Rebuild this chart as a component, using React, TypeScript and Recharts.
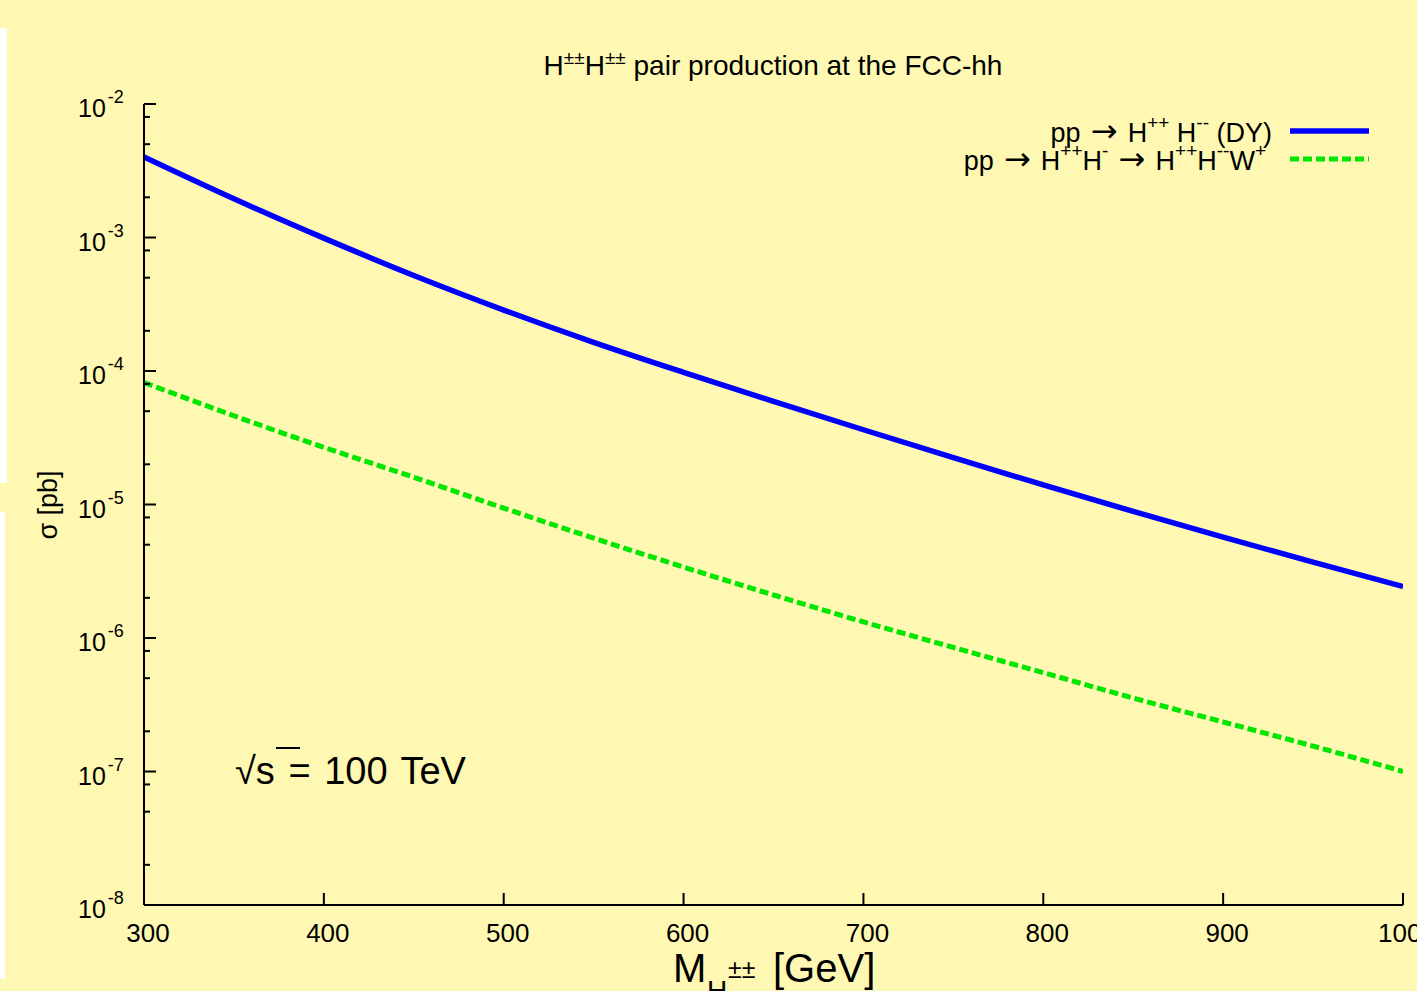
import React from 'react';
import { LineChart, Line, XAxis, YAxis } from 'recharts';

const BG = '#fef8b3';
const FONT = '"Liberation Sans", Arial, Helvetica, sans-serif';
const ARROW_FONT = '"DejaVu Sans", sans-serif';

// data
const masses = [300, 350, 400, 450, 500, 550, 600, 650, 700, 750, 800, 850, 900, 950, 1000];
const dySigma = [4.01e-3, 1.95e-3, 9.89e-4, 5.19e-4, 2.86e-4, 1.64e-4, 9.77e-5, 5.92e-5, 3.63e-5, 2.24e-5, 1.4e-5, 8.87e-6, 5.69e-6, 3.7e-6, 2.43e-6];
const wSigma = [8.2e-5, 4.62e-5, 2.68e-5, 1.6e-5, 9.4e-6, 5.6e-6, 3.4e-6, 2.1e-6, 1.32e-6, 8.5e-7, 5.5e-7, 3.55e-7, 2.35e-7, 1.55e-7, 1.0e-7];

const xTicks = [300, 400, 500, 600, 700, 800, 900, 1000];
const yDecades = [-8, -7, -6, -5, -4, -3, -2];
const yMinorMantissas = [2, 5, 8];

const data = masses.map((m, i) => ({ m, dy: dySigma[i], w: wSigma[i] }));

const yTicks: number[] = [];
yDecades.forEach((d, i) => {
  yTicks.push(Math.pow(10, d));
  if (i < yDecades.length - 1) yMinorMantissas.forEach((k) => yTicks.push(k * Math.pow(10, d)));
});

const isMajor = (v: number) => {
  const lg = Math.log10(v);
  return Math.abs(lg - Math.round(lg)) < 1e-6;
};

const LeftTick = (props: any) => {
  const { x, y, payload } = props;
  const v = payload.value;
  const major = isMajor(v);
  return (
    <g>
      <line x1={x} x2={x + (major ? 12 : 6)} y1={y} y2={y} stroke="#000" strokeWidth={2} />
      {major && (
        <text x={x - 66} y={y + 13} fontFamily={FONT} fontSize={25} fill="#000" textAnchor="start">
          10
          <tspan dx={2} dy={-14} fontSize={18}>{String(Math.round(Math.log10(v)))}</tspan>
        </text>
      )}
    </g>
  );
};

const RightTick = (props: any) => {
  const { x, y, payload } = props;
  const major = isMajor(payload.value);
  return <line x1={x - (major ? 12 : 6)} x2={x} y1={y} y2={y} stroke="#000" strokeWidth={2} />;
};

const BottomTick = (props: any) => {
  const { x, y, payload } = props;
  return (
    <g>
      <line x1={x} x2={x} y1={y - 12} y2={y} stroke="#000" strokeWidth={2} />
      <text x={x + 4} y={y + 37} fontFamily={FONT} fontSize={26} fill="#000" textAnchor="middle">
        {payload.value}
      </text>
    </g>
  );
};

const TopTick = (props: any) => {
  const { x, y } = props;
  return <line x1={x} x2={x} y1={y} y2={y + 12} stroke="#000" strokeWidth={2} />;
};

const series = [
  { key: 'dy', color: '#0000ff', dash: undefined as string | undefined, width: 5.5 },
  { key: 'w', color: '#00e600', dash: '9 4', width: 5 },
];

export default function App() {
  const axisLine = { stroke: '#000', strokeWidth: 2 };
  return (
    <div style={{ position: 'absolute', left: 0, top: 0, width: 1417, height: 991, background: BG, overflow: 'hidden' }}>
      <div style={{ position: 'absolute', left: 0, top: 28, width: 7, height: 455, background: '#fff' }} />
      <div style={{ position: 'absolute', left: 0, top: 512, width: 5, height: 467, background: '#fff' }} />
      <div style={{ position: 'absolute', left: 0, top: 0 }}>
        <LineChart width={1417} height={991} data={data} margin={{ top: 104, right: 14, bottom: 0, left: 0 }}>
          <XAxis
            xAxisId="b"
            dataKey="m"
            type="number"
            domain={[300, 1000]}
            ticks={xTicks}
            allowDataOverflow
            height={86}
            tickSize={0}
            tickMargin={0}
            axisLine={axisLine}
            tickLine={false}
            tick={<BottomTick />}
            interval={0}
          />
          <XAxis
            xAxisId="t"
            orientation="top"
            dataKey="m"
            type="number"
            domain={[300, 1000]}
            ticks={xTicks}
            allowDataOverflow
            height={0}
            tickSize={0}
            tickMargin={0}
            axisLine={axisLine}
            tickLine={false}
            tick={<TopTick />}
            interval={0}
          />
          <YAxis
            yAxisId="l"
            scale="log"
            type="number"
            domain={[1e-8, 1e-2]}
            ticks={yTicks}
            allowDataOverflow
            width={144}
            tickSize={0}
            tickMargin={0}
            axisLine={axisLine}
            tickLine={false}
            tick={<LeftTick />}
            interval={0}
          />
          <YAxis
            yAxisId="r"
            orientation="right"
            scale="log"
            type="number"
            domain={[1e-8, 1e-2]}
            ticks={yTicks}
            allowDataOverflow
            width={0}
            tickSize={0}
            tickMargin={0}
            axisLine={axisLine}
            tickLine={false}
            tick={<RightTick />}
            interval={0}
          />
          {series.map((s) => (
            <Line
              key={s.key}
              xAxisId="b"
              yAxisId="l"
              dataKey={s.key}
              type="monotone"
              stroke={s.color}
              strokeWidth={s.width}
              strokeDasharray={s.dash}
              dot={false}
              activeDot={false}
              isAnimationActive={false}
              legendType="none"
            />
          ))}
        </LineChart>
      </div>
      <svg width={1417} height={991} style={{ position: 'absolute', left: 0, top: 0, pointerEvents: 'none' }}>
        <g fontFamily={FONT} fill="#000" style={{ whiteSpace: 'pre' }}>
          {/* title */}
          <text x={773} y={75} fontSize={28} textAnchor="middle">
            H<tspan dy={-11} fontSize={19}>±±</tspan><tspan dy={11}>H</tspan><tspan dy={-11} fontSize={19}>±±</tspan><tspan dy={11}> pair production at the FCC-hh</tspan>
          </text>
          {/* legend */}
          <text x={1272} y={142} fontSize={27} textAnchor="end">
            pp<tspan fontFamily={ARROW_FONT} fontSize={32}> → </tspan><tspan>H</tspan><tspan dy={-13} fontSize={19}>++</tspan><tspan dy={13}> H</tspan><tspan dy={-13} fontSize={19}>--</tspan><tspan dy={13}> (DY)</tspan>
          </text>
          <text x={1266} y={170} fontSize={27} textAnchor="end">
            pp<tspan fontFamily={ARROW_FONT} fontSize={32}> → </tspan><tspan>H</tspan><tspan dy={-13} fontSize={19}>++</tspan><tspan dy={13}>H</tspan><tspan dy={-13} fontSize={19}>-</tspan><tspan dy={13} fontFamily={ARROW_FONT} fontSize={32}> → </tspan><tspan>H</tspan><tspan dy={-13} fontSize={19}>++</tspan><tspan dy={13}>H</tspan><tspan dy={-13} fontSize={19}>--</tspan><tspan dy={13}>W</tspan><tspan dy={-13} fontSize={19}>+</tspan>
          </text>
          {series.map((s, i) => (
            <line key={s.key} x1={1290} x2={1369} y1={131 + i * 28} y2={131 + i * 28} stroke={s.color} strokeWidth={s.width} strokeDasharray={s.dash} />
          ))}
          {/* annotation */}
          <text x={235} y={784} fontSize={38} wordSpacing={3}>√s = 100 TeV</text>
          <line x1={276} x2={300} y1={748} y2={748} stroke="#000" strokeWidth={2} />
          {/* axis labels */}
          <text x={673} y={982} fontSize={40}>
            M<tspan x={707} y={1000} fontSize={28}>H</tspan><tspan x={728} y={978} fontSize={25}>±±</tspan><tspan x={773} y={982} fontSize={40}>[GeV]</tspan>
          </text>
          <text transform="translate(57,505) rotate(-90)" fontSize={27} textAnchor="middle">σ [pb]</text>
        </g>
      </svg>
    </div>
  );
}
